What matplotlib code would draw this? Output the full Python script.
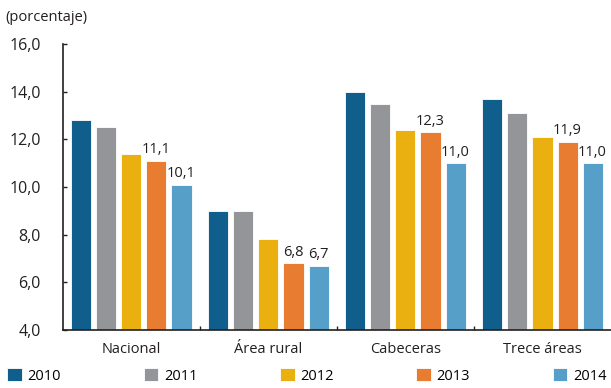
import numpy as np
import matplotlib.pyplot as plt
from matplotlib.ticker import FixedLocator, NullFormatter

plt.rcParams['font.family'] = ['Open Sans', 'DejaVu Sans']

# Incidencia por dominio y año
dominios = ["Nacional", "Área rural", "Cabeceras", "Trece áreas"]
anios = ["2010", "2011", "2012", "2013", "2014"]
valores = {
    "2010": [12.8, 9.0, 14.0, 13.7],
    "2011": [12.5, 9.0, 13.5, 13.1],
    "2012": [11.4, 7.8, 12.4, 12.1],
    "2013": [11.1, 6.8, 12.3, 11.9],
    "2014": [10.1, 6.7, 11.0, 11.0],
}
colores = ["#0F5E8C", "#939598", "#E9B010", "#E87D31", "#559FC8"]
# only these years get value labels
rotulados = ["2013", "2014"]

fig = plt.figure(figsize=(6.11, 3.88), dpi=100)
ax = fig.add_axes([0.1031, 0.1495, 0.8969, 0.7371])

x = np.arange(len(dominios))
paso = 0.1825
ancho = 0.146
for i, (anio, color) in enumerate(zip(anios, colores)):
    pos = x + (i - 2) * paso
    barras = ax.bar(pos, valores[anio], ancho, color=color, label=anio,
                    edgecolor="white", linewidth=0.6, zorder=2)
    if anio in rotulados:
        for b, v in zip(barras, valores[anio]):
            ax.text(b.get_x() + b.get_width() / 2, v + 0.15,
                    f"{v:.1f}".replace(".", ","), ha="center", va="bottom",
                    fontsize=10.5, color="#231F20")

ax.set_xlim(-0.5, 3.5)
ax.set_ylim(4, 16)
ax.set_yticks(np.arange(4, 17, 2))
ax.set_yticklabels([f"{t:.1f}".replace(".", ",") for t in np.arange(4, 17, 2)])
ax.set_xticks(x)
ax.set_xticklabels(dominios)
ax.xaxis.set_minor_locator(FixedLocator([0.5, 1.5, 2.5]))
ax.xaxis.set_minor_formatter(NullFormatter())

ax.tick_params(axis="y", direction="in", length=3, width=1, pad=16,
               labelsize=11.5, colors="#231F20")
ax.tick_params(axis="x", which="major", length=0, pad=9,
               labelsize=10.5, colors="#231F20")
ax.tick_params(axis="x", which="minor", direction="in", length=3, width=1,
               color="#231F20")
for s in ["top", "right"]:
    ax.spines[s].set_visible(False)
for s in ["left", "bottom"]:
    ax.spines[s].set_color("#231F20")
    ax.spines[s].set_linewidth(1.2)

fig.text(0.008, 0.955, "(porcentaje)", fontsize=10.5, color="#231F20",
         ha="left", va="center")

fig.legend(loc="center left", bbox_to_anchor=(0.012, 0.031),
           ncol=5, frameon=False, fontsize=10.5,
           handlelength=1.0, handleheight=1.0, handletextpad=0.4,
           columnspacing=5.65, borderaxespad=0.0, borderpad=0.0)

fig.savefig("out.png", dpi=100)
